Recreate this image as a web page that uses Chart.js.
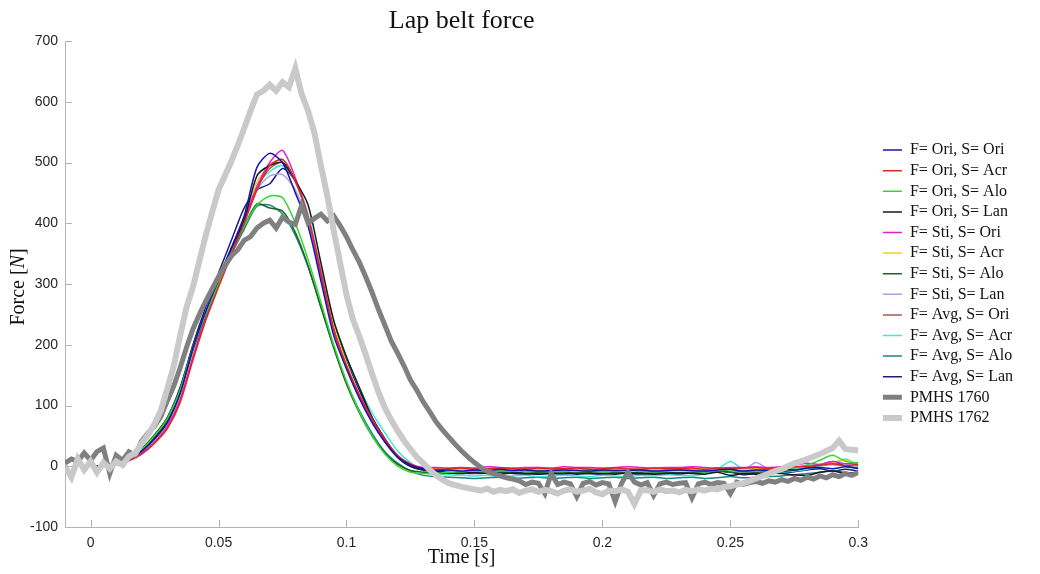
<!DOCTYPE html>
<html>
<head>
<meta charset="utf-8">
<title>Lap belt force</title>
<script src="https://cdn.jsdelivr.net/npm/chart.js@4.4.1/dist/chart.umd.min.js"></script>
<style>
  html, body { margin: 0; padding: 0; background: #fff; }
</style>
</head>
<body>
<canvas id="chart" width="1040" height="574"></canvas>
<script>
// ================= DATA =================
// simulations are sampled every 5 ms from t = 0, the PMHS tests every 2.5 ms from t = -10 ms
const simStep = 0.005;
const pmhsStep = 0.0025;
const pmhsStart = -0.01;

const xTicks = [0, 0.05, 0.1, 0.15, 0.2, 0.25, 0.3];
const yTicks = [-100, 0, 100, 200, 300, 400, 500, 600, 700];

const simLabels = [
    'F= Ori, S= Ori', 'F= Ori, S= Acr', 'F= Ori, S= Alo', 'F= Ori, S= Lan',
    'F= Sti, S= Ori', 'F= Sti, S= Acr', 'F= Sti, S= Alo', 'F= Sti, S= Lan',
    'F= Avg, S= Ori', 'F= Avg, S= Acr', 'F= Avg, S= Alo', 'F= Avg, S= Lan'
];
const simColors = [
    '#1414b4', '#e02424', '#34d634', '#181828',
    '#e020c8', '#f0d21e', '#1e6428', '#a4a4ec',
    '#a85a48', '#3ce8da', '#1e8484', '#1c1c7c'
];

const oriOri = [0, 1, 4, 12, 25, 45, 72, 120, 195, 255, 310, 360, 412, 492, 515, 500, 450, 395, 305, 215, 160, 112, 72, 40, 15, 2, -4,
    -7, -6, -8, -6, -7, -5, -7, -6, -8, -7, -6, -7, -8, -6, -7, -7, -6, -8, -7, -6, -7, -8, -6, -5, -8, -6, -7, -5, -6, -3, -2, -4, -1, -3];
const oriAcr = [0, 1, 3, 9, 20, 38, 62, 105, 175, 240, 295, 348, 400, 455, 495, 505, 470, 410, 320, 225, 165, 118, 78, 45, 18, 4, -3,
    -5, -4, -3, -5, -4, -3, -4, -5, -3, -4, -4, -3, -5, -4, -3, -4, -5, -3, -4, -4, -3, -5, -3, -4, -3, -2, -4, -3, -1, 0, 2, 4, 1, 3];
const oriAlo = [0, 1, 5, 14, 28, 50, 78, 125, 195, 250, 300, 350, 395, 430, 445, 442, 400, 340, 270, 200, 140, 90, 50, 20, 0, -10, -12,
    -12, -10, -9, -8, -9, -8, -7, -9, -8, -8, -9, -7, -8, -9, -8, -7, -8, -9, -8, -7, -8, -9, -7, -6, -8, -7, -8, -6, -3, 2, 10, 18, 8, 5];
const oriLan = [0, 1, 4, 12, 26, 47, 75, 122, 192, 250, 305, 358, 405, 478, 495, 500, 470, 430, 335, 240, 180, 130, 80, 45, 15, 0, -6,
    -9, -11, -12, -10, -12, -13, -11, -12, -13, -12, -11, -13, -12, -12, -13, -11, -12, -13, -12, -11, -12, -13, -10, -15, -12, -13, -11, -12, -14, -15, -10, -8, -12, -10];
const stiOri = [0, 1, 3, 10, 22, 40, 66, 110, 180, 245, 300, 352, 405, 460, 500, 520, 475, 410, 315, 225, 165, 115, 75, 42, 16, 3, -2,
    -2, -3, -2, -3, -1, -2, -3, -2, -2, -3, -1, -2, -2, -3, -2, -1, -2, -3, -2, -2, -1, -2, -3, -2, -2, -1, -2, -1, 2, 5, 3, 8, 4, 6];
const stiAcr = [0, 1, 3, 10, 22, 41, 68, 112, 182, 246, 300, 352, 405, 468, 495, 505, 470, 410, 320, 232, 170, 118, 76, 42, 15, 2, -3,
    -4, -5, -4, -6, -5, -4, -5, -6, -4, -5, -5, -4, -6, -5, -4, -5, -5, -4, -6, -5, -4, -5, -4, -3, -5, -4, -3, -5, -2, 0, 3, 6, 10, 4];
const stiAlo = [0, 1, 5, 14, 29, 52, 80, 128, 198, 252, 302, 352, 395, 432, 425, 420, 385, 330, 262, 195, 135, 88, 50, 22, 3, -7, -10,
    -12, -11, -10, -11, -10, -9, -10, -11, -10, -9, -10, -11, -10, -9, -10, -11, -10, -9, -10, -11, -10, -9, -8, -10, -9, -10, -8, -9, -6, -3, 2, 8, 0, -4];
const stiLan = [0, 1, 4, 11, 24, 44, 70, 116, 186, 248, 300, 350, 400, 455, 478, 480, 455, 400, 312, 222, 162, 112, 72, 40, 14, 2, -5,
    -6, -7, -5, -6, -7, -5, -6, -7, -6, -5, -6, -7, -6, -5, -6, -7, -6, -5, -6, -7, -6, -5, -6, -4, -7, 6, -5, -6, -3, -1, 2, 4, 2, 0];
const avgOri = [0, 1, 3, 10, 22, 41, 66, 110, 180, 244, 298, 350, 402, 458, 490, 500, 468, 408, 318, 226, 166, 116, 76, 43, 16, 3, -4,
    -5, -6, -5, -4, -5, -6, -5, -4, -5, -6, -5, -4, -5, -6, -5, -4, -5, -6, -5, -4, -5, -6, -5, -4, -5, -4, -5, -3, -2, 0, 2, 3, 1, 2];
const avgAcr = [0, 1, 4, 11, 24, 44, 70, 116, 185, 248, 300, 352, 400, 462, 485, 495, 470, 415, 325, 240, 180, 130, 88, 55, 25, 6, -8,
    -12, -14, -15, -16, -15, -17, -16, -15, -17, -16, -15, -16, -17, -15, -16, -17, -15, -16, -14, -15, -16, -12, -5, 8, -5, -10, -12, -10, -8, -5, 0, 5, 12, 2];
const avgAlo = [0, 1, 5, 14, 28, 51, 79, 126, 196, 250, 300, 348, 390, 428, 430, 415, 380, 328, 262, 196, 138, 92, 54, 24, 5, -8, -15,
    -17, -18, -19, -20, -19, -18, -20, -19, -18, -20, -19, -18, -20, -19, -18, -20, -19, -18, -20, -19, -18, -20, -19, -17, -19, -18, -17, -16, -14, -12, -10, -8, -10, -12];
const avgLan = [0, 1, 5, 14, 28, 50, 80, 130, 200, 262, 318, 372, 425, 455, 465, 490, 470, 410, 318, 230, 175, 125, 80, 45, 15, 0, -6,
    -8, -10, -11, -12, -11, -10, -12, -13, -11, -12, -13, -11, -12, -13, -11, -12, -13, -11, -12, -13, -11, -12, -8, -10, -14, -12, -10, -11, -9, -6, -4, -8, -5, -8];

const pmhs1760 = [5, 12, 8, 22, 10, 24, 30, -12, 18, 10, 24, 18, 42, 55, 66, 82, 108, 132, 162, 196,
    226, 250, 272, 292, 312, 330, 346, 356, 372, 378, 392, 400, 405, 392, 410, 402, 398, 430, 400, 408,
    415, 404, 412, 396, 378, 356, 336, 312, 286, 258, 232, 206, 186, 165, 142, 125, 106, 90, 73, 60,
    48, 36, 25, 15, 6, -2, -8, -12, -16, -19, -21, -24, -30, -26, -28, -45, -12, -30, -26, -29,
    -50, -28, -25, -31, -27, -29, -58, -28, -10, -26, -31, -27, -48, -29, -26, -30, -28, -27, -52, -29,
    -26, -30, -27, -28, -45, -26, -30, -27, -25, -28, -24, -26, -22, -25, -20, -23, -18, -21, -16, -19,
    -14, -17, -12, -15, -10];
const pmhs1762 = [0, -18, 12, -6, 8, -10, 6, -4, 8, 2, 16, 22, 38, 52, 70, 92, 128, 165, 215, 262,
    295, 338, 380, 418, 455, 478, 502, 528, 556, 585, 612, 618, 628, 618, 632, 624, 655, 612, 585, 548,
    495, 445, 388, 335, 282, 242, 214, 184, 152, 122, 96, 76, 58, 42, 28, 15, 5, -6, -15, -22,
    -28, -31, -34, -36, -38, -40, -37, -42, -39, -41, -38, -44, -40, -38, -42, -39, -41, -45, -40, -38,
    -42, -40, -37, -43, -46, -40, -41, -38, -42, -62, -40, -39, -42, -38, -41, -40, -43, -39, -41, -38,
    -40, -37, -38, -34, -33, -30, -28, -24, -20, -16, -12, -8, -5, 0, 5, 8, 12, 16, 20, 25,
    30, 42, 28, 27, 26];

const simSeries = [oriOri, oriAcr, oriAlo, oriLan, stiOri, stiAcr, stiAlo, stiLan, avgOri, avgAcr, avgAlo, avgLan];

// ================= DATASETS =================
function toPoints(values, start, step) {
    return values.map((v, i) => ({ x: +(start + i * step).toFixed(4), y: v }));
}

const datasets = simSeries.map((vals, i) => ({
    label: simLabels[i],
    data: toPoints(vals, 0, simStep),
    borderColor: simColors[i],
    pointBorderColor: simColors[i],
    borderWidth: 1.5,
    pointBorderWidth: 1.5,
    pointRadius: 0,
    tension: 0.25,
    order: 2
}));

datasets.push({
    label: 'PMHS 1760',
    data: toPoints(pmhs1760, pmhsStart, pmhsStep),
    borderColor: '#808080',
    pointBorderColor: '#808080',
    borderWidth: 5,
    pointBorderWidth: 5,
    pointRadius: 0,
    order: 1
});
datasets.push({
    label: 'PMHS 1762',
    data: toPoints(pmhs1762, pmhsStart, pmhsStep),
    borderColor: '#c9c9c9',
    pointBorderColor: '#c9c9c9',
    borderWidth: 6,
    pointBorderWidth: 6,
    pointRadius: 0,
    order: 0
});

// ================= TEXT + INWARD TICKS =================
function drawMixed(ctx, parts, x, y) {
    // parts: [text, italic]
    const serif = '"Liberation Serif", serif';
    let total = 0;
    parts.forEach(p => {
        ctx.font = (p[1] ? 'italic ' : '') + '20px ' + serif;
        total += ctx.measureText(p[0]).width;
    });
    let cx = x - total / 2;
    ctx.textAlign = 'left';
    ctx.textBaseline = 'middle';
    parts.forEach(p => {
        ctx.font = (p[1] ? 'italic ' : '') + '20px ' + serif;
        ctx.fillText(p[0], cx, y);
        cx += ctx.measureText(p[0]).width;
    });
}

const annotate = {
    id: 'annotate',
    afterDraw(chart) {
        const { ctx, chartArea: a, scales: { x, y } } = chart;
        ctx.save();

        ctx.strokeStyle = '#b4b4b4';
        ctx.lineWidth = 1;
        ctx.beginPath();
        xTicks.forEach(v => {
            const px = Math.round(x.getPixelForValue(v)) + 0.5;
            ctx.moveTo(px, a.bottom);
            ctx.lineTo(px, a.bottom - 7);
        });
        yTicks.forEach(v => {
            const py = Math.round(y.getPixelForValue(v)) + 0.5;
            ctx.moveTo(a.left, py);
            ctx.lineTo(a.left + 7, py);
        });
        ctx.stroke();

        ctx.fillStyle = '#111';
        ctx.font = '26px "Liberation Serif", serif';
        ctx.textAlign = 'center';
        ctx.textBaseline = 'alphabetic';
        ctx.fillText('Lap belt force', (a.left + a.right) / 2, 28);

        drawMixed(ctx, [['Time [', false], ['s', true], [']', false]], (a.left + a.right) / 2, 558);

        ctx.translate(19, (a.top + a.bottom) / 2 + 3);
        ctx.rotate(-Math.PI / 2);
        drawMixed(ctx, [['Force [', false], ['N', true], [']', false]], 0, 0);
        ctx.restore();
    }
};

// ================= CHART =================
new Chart(document.getElementById('chart'), {
    type: 'line',
    data: { datasets },
    plugins: [annotate],
    options: {
        responsive: false,
        animation: false,
        layout: { padding: { top: 41, right: 17, bottom: 0, left: 0 } },
        scales: {
            x: {
                type: 'linear',
                min: -0.01,
                max: 0.3,
                afterBuildTicks: s => { s.ticks = xTicks.map(v => ({ value: v })); },
                afterFit: s => { s.height = 47; },
                grid: { display: false, drawTicks: false },
                border: { display: true, color: '#b4b4b4' },
                ticks: {
                    padding: 8,
                    color: '#262626',
                    font: { family: '"Liberation Sans", Arial, sans-serif', size: 14 },
                    callback: v => String(+v.toFixed(2))
                }
            },
            y: {
                min: -100,
                max: 700,
                afterBuildTicks: s => { s.ticks = yTicks.map(v => ({ value: v })); },
                afterFit: s => { s.width = 65; },
                grid: { display: false, drawTicks: false },
                border: { display: true, color: '#b4b4b4' },
                ticks: {
                    padding: 7,
                    color: '#262626',
                    font: { family: '"Liberation Sans", Arial, sans-serif', size: 14 }
                }
            },
            gap: {
                type: 'linear',
                position: 'right',
                grid: { display: false, drawTicks: false },
                border: { display: false },
                ticks: { display: false },
                afterFit: s => { s.width = 20; }
            }
        },
        plugins: {
            title: { display: false },
            tooltip: { enabled: false },
            legend: {
                position: 'right',
                fullSize: false,
                labels: {
                    usePointStyle: true,
                    pointStyle: 'line',
                    pointStyleWidth: 19,
                    padding: 4.6,
                    color: '#111',
                    font: { family: '"Liberation Serif", serif', size: 16 },
                    sort: (a, b) => a.datasetIndex - b.datasetIndex
                }
            }
        }
    }
});
</script>
</body>
</html>
